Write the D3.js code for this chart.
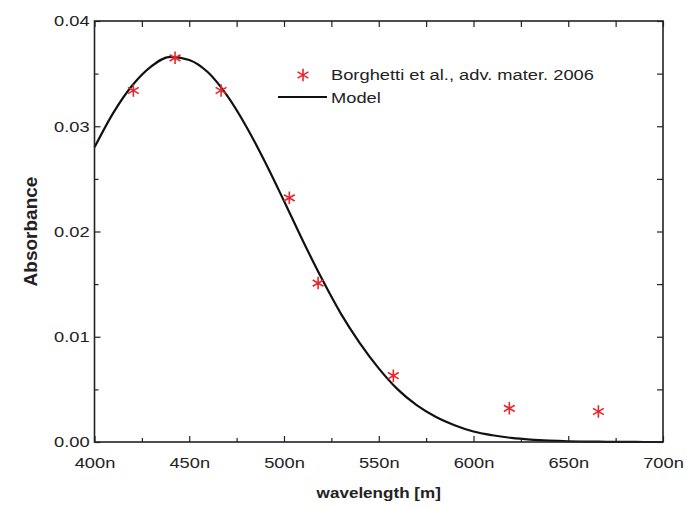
<!DOCTYPE html>
<html>
<head>
<meta charset="utf-8">
<script src="https://cdn.jsdelivr.net/npm/d3@7"></script>
<style>
  body { margin: 0; background: #fff; }
  text { font-family: "Liberation Sans", Arial, sans-serif; fill: #222; }
</style>
</head>
<body>
<script>
// measured points (Borghetti et al.)
const dataWavelength = [420.5, 442.5, 466.8, 502.8, 518, 557.7, 618.9, 665.9]
const dataAbsorbance = [0.0334, 0.0365, 0.0334, 0.0232, 0.0151, 0.0063, 0.0032, 0.0029]

const modelWavelength = [400, 410, 420, 430, 440, 450, 460, 470, 480, 490, 500, 510, 520, 530, 540, 550,
  560, 570, 580, 590, 600, 610, 620, 630, 640, 650, 660, 670, 680, 690, 700]
const modelAbsorbance = [0.0280, 0.0313, 0.0339, 0.0357, 0.0366, 0.0363, 0.0351, 0.0329, 0.0300, 0.0266,
  0.0229, 0.0191, 0.0155, 0.0122, 0.0094, 0.0070, 0.0050, 0.0035, 0.0024, 0.0016, 0.0010, 0.00064,
  0.00039, 0.00023, 0.00013, 0.00007, 0.00004, 0.00002, 0.00001, 0, 0]

const xTicks = [400, 450, 500, 550, 600, 650, 700]
const xMinor = [425, 475, 525, 575, 625, 675]
const yTicks = [0, 0.01, 0.02, 0.03, 0.04]
const yMinor = [0.005, 0.015, 0.025, 0.035]
const legendLabels = ["Borghetti et al., adv. mater. 2006", "Model"]

const width = 686, height = 507
const margin = {top: 21, right: 23, bottom: 65, left: 94.5}
const stretch = "scale(1.22,1)"

const svg = d3.select("body").append("svg")
  .attr("width", width)
  .attr("height", height)

const x = d3.scaleLinear().domain([400, 700]).range([margin.left, width - margin.right])
const y = d3.scaleLinear().domain([0, 0.04]).range([height - margin.bottom, margin.top])

const red = "#e8252d"

// model line
const line = d3.line()
  .x((d, i) => x(modelWavelength[i]))
  .y(d => y(d))
  .curve(d3.curveMonotoneX)

svg.append("path")
  .datum(modelAbsorbance)
  .attr("d", line)
  .attr("fill", "none")
  .attr("stroke", "#111")
  .attr("stroke-width", 2.2)

// data points
const star = d3.symbol().type(d3.symbolAsterisk).size(110)
svg.selectAll(".pt")
  .data(dataAbsorbance)
  .join("path")
  .attr("class", "pt")
  .attr("d", star)
  .attr("transform", (d, i) => `translate(${x(dataWavelength[i])},${y(d)})`)
  .attr("fill", "none")
  .attr("stroke", red)
  .attr("stroke-width", 1.6)

// axes
function styleAxis(g) {
  g.select(".domain").remove()
  g.selectAll("line").attr("stroke", "#222").attr("stroke-width", 1.2)
  g.selectAll("text").style("font-size", "15px").attr("fill", "#222")
}

const xAxis = svg.append("g")
  .attr("transform", `translate(0,${height - margin.bottom})`)
  .call(d3.axisBottom(x).tickValues(xTicks).tickSize(-6).tickPadding(15).tickFormat(d => d + "n"))
  .call(styleAxis)
xAxis.selectAll("text").attr("transform", stretch)

svg.append("g")
  .attr("transform", `translate(0,${height - margin.bottom})`)
  .call(d3.axisBottom(x).tickValues(xMinor).tickSize(-4).tickFormat(""))
  .call(styleAxis)

svg.append("g")
  .attr("transform", `translate(0,${margin.top})`)
  .call(d3.axisTop(x).tickValues(xTicks.concat(xMinor)).tickSize(-6).tickFormat(""))
  .call(styleAxis)

const yAxis = svg.append("g")
  .attr("transform", `translate(${margin.left},0)`)
  .call(d3.axisLeft(y).tickValues(yTicks).tickSize(-6).tickPadding(4).tickFormat(d3.format(".2f")))
  .call(styleAxis)
yAxis.selectAll("text").attr("transform", stretch)

svg.append("g")
  .attr("transform", `translate(${margin.left},0)`)
  .call(d3.axisLeft(y).tickValues(yMinor).tickSize(-4).tickFormat(""))
  .call(styleAxis)

svg.append("g")
  .attr("transform", `translate(${width - margin.right},0)`)
  .call(d3.axisRight(y).tickValues(yTicks.concat(yMinor)).tickSize(-6).tickFormat(""))
  .call(styleAxis)

// frame
svg.append("rect")
  .attr("x", margin.left)
  .attr("y", margin.top)
  .attr("width", width - margin.left - margin.right)
  .attr("height", height - margin.top - margin.bottom)
  .attr("fill", "none")
  .attr("stroke", "#222")
  .attr("stroke-width", 1.6)

// axis titles
svg.append("text")
  .attr("transform", `translate(${(margin.left + width - margin.right) / 2},498) ${stretch}`)
  .attr("text-anchor", "middle")
  .style("font-size", "14px")
  .style("font-weight", "bold")
  .text("wavelength [m]")

svg.append("text")
  .attr("transform", `translate(37,${(margin.top + height - margin.bottom) / 2}) rotate(-90)`)
  .attr("text-anchor", "middle")
  .style("font-size", "19px")
  .style("font-weight", "bold")
  .text("Absorbance")

// legend
const legend = svg.append("g")
svg.append("path")
  .attr("d", star)
  .attr("transform", "translate(303,75)")
  .attr("fill", "none")
  .attr("stroke", red)
  .attr("stroke-width", 1.6)

svg.append("line")
  .attr("x1", 278).attr("x2", 327)
  .attr("y1", 97).attr("y2", 97)
  .attr("stroke", "#111")
  .attr("stroke-width", 2.2)

legend.selectAll("text")
  .data(legendLabels)
  .join("text")
  .attr("transform", (d, i) => `translate(331,${80 + i * 23}) ${stretch}`)
  .style("font-size", "15px")
  .text(d => d)
</script>
</body>
</html>
